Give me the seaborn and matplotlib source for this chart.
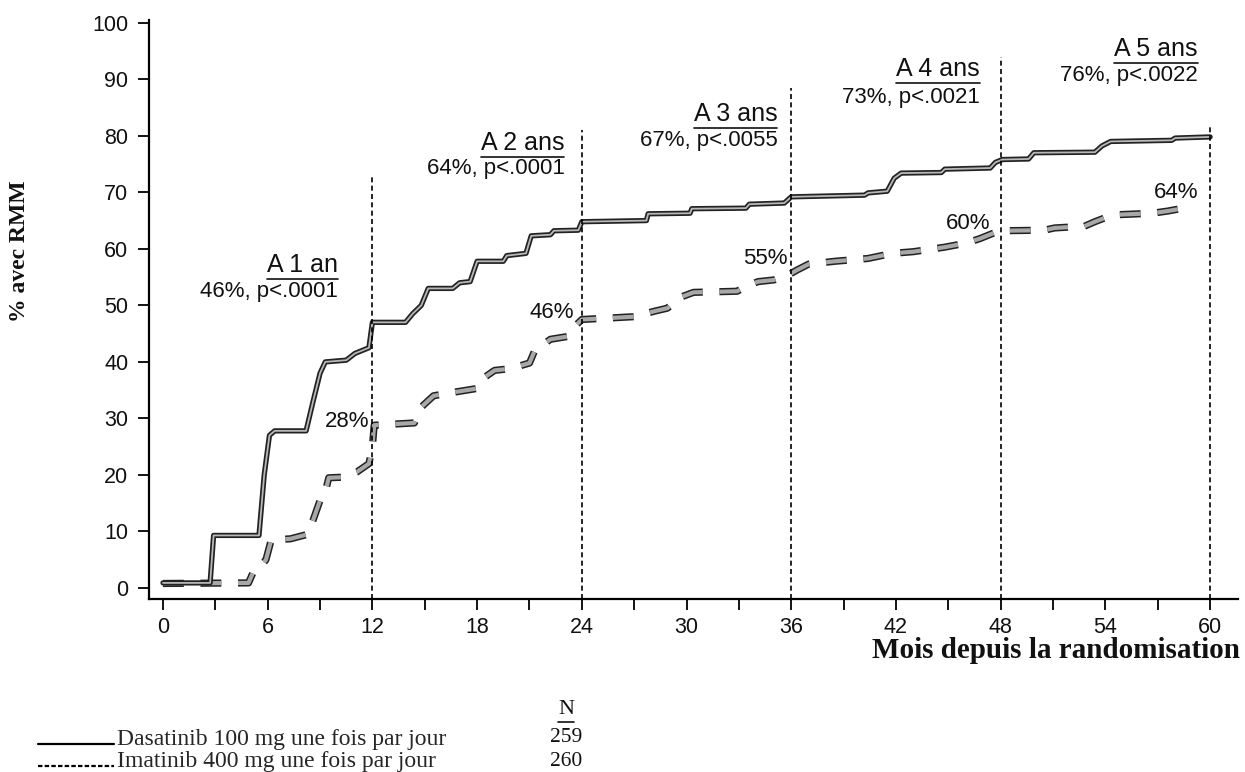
import matplotlib
matplotlib.use('Agg')
import numpy as np
import matplotlib.pyplot as plt
import seaborn as sns
import pandas as pd
from matplotlib import patheffects as pe
from matplotlib.lines import Line2D
from matplotlib.legend_handler import HandlerLine2D

# Data (% with MMR over time)
dasa_months = [0, 2.7, 2.9, 5.5, 5.8, 6.1, 6.4, 8.2, 8.6, 9.0, 9.3, 10.5, 11.0, 11.8, 12.0,
               13.9, 14.3, 14.8, 15.2, 16.6, 17.0, 17.6, 18.0, 19.5, 19.7, 20.8, 21.1, 22.2,
               22.4, 23.8, 24.0, 27.7, 27.8, 30.2, 30.3, 33.4, 33.6, 35.6, 36.0, 40.2, 40.4,
               41.5, 41.9, 42.3, 44.6, 44.8, 47.4, 47.7, 48.1, 49.6, 49.9, 53.4, 53.8, 54.3,
               57.8, 58.0, 60.0]
dasa_pct = [0.9, 0.9, 9.3, 9.3, 20, 27, 27.8, 27.8, 33, 38, 40, 40.3, 41.5, 42.5, 47,
            47, 48.5, 50, 53, 53, 54, 54.2, 57.8, 57.8, 58.8, 59.2, 62.3, 62.5,
            63.2, 63.3, 64.8, 65, 66.2, 66.3, 67.1, 67.2, 67.9, 68.1, 69.2, 69.5, 69.9,
            70.2, 72.5, 73.4, 73.5, 74.1, 74.3, 75.3, 75.8, 75.9, 77, 77.1, 78.2, 79.0,
            79.2, 79.6, 79.8]

ima_months = [0, 4.9, 5.2, 5.5, 5.9, 6.2, 7.3, 8.3, 8.6, 9.0, 9.3, 9.5, 10.3, 11.1, 11.8,
              12.0, 12.1, 14.4, 14.8, 15.5, 16.4, 18.0, 18.3, 19.0, 19.9, 21.0, 21.3, 22.2,
              23.2, 23.5, 24.0, 27.0, 28.2, 28.9, 29.7, 30.4, 32.9, 33.5, 34.1, 35.0, 35.8,
              36.3, 37.0, 38.5, 40.4, 41.8, 43.0, 44.8, 46.0, 46.8, 47.6, 48.0, 50.5, 51.1,
              52.8, 53.4, 54.4, 56.7, 57.6, 59.0]
ima_pct = [0.8, 0.9, 3, 3.5, 5, 8.5, 8.7, 9.5, 12, 15.5, 17, 19.5, 19.6, 20.5, 22,
           25, 28.8, 29.2, 32, 34, 34.5, 35.3, 37, 38.5, 38.8, 39.8, 42, 44,
           44.5, 46, 47.5, 48, 49, 49.5, 51.5, 52.3, 52.5, 53.5, 54.2, 54.5, 55.3,
           56.2, 57.3, 57.8, 58.3, 59.2, 59.5, 60.3, 61, 61.8, 62.8, 63.2, 63.3, 63.7,
           64.0, 64.8, 66.0, 66.3, 66.7, 67.5]

year_months = [12, 24, 36, 48, 60]
year_line_top = [73, 81, 88.5, 94, 82]
year_titles = ['A 1 an', 'A 2 ans', 'A 3 ans', 'A 4 ans', 'A 5 ans']
year_stats = ['46%, p<.0001', '64%, p<.0001', '67%, p<.0055', '73%, p<.0021', '76%, p<.0022']
title_x = [10.0, 23.0, 35.2, 46.8, 59.3]
title_y = [57.2, 78.8, 83.8, 91.9, 95.4]
stats_y = [52.5, 74.2, 79.2, 86.7, 90.6]

ima_labels = ['28%', '46%', '55%', '60%', '64%']
ima_label_x = [11.8, 23.55, 35.8, 47.4, 59.3]
ima_label_y = [29.5, 48.8, 58.3, 64.5, 70.0]

legend_labels = ['Dasatinib 100 mg une fois par jour', 'Imatinib 400 mg une fois par jour']
legend_n = ['259', '260']

sns.set_theme(style='white')
plt.rcParams['font.family'] = ['Liberation Sans', 'DejaVu Sans']

fig = plt.figure(figsize=(12.45, 7.72), dpi=100)
ax = fig.add_axes([0.1197, 0.2237, 0.8747, 0.7505])

dasa = pd.DataFrame({'month': dasa_months, 'pct': dasa_pct})
ima = pd.DataFrame({'month': ima_months, 'pct': ima_pct})

sns.lineplot(data=ima, x='month', y='pct', ax=ax, sort=False, estimator=None,
             color='#a8a8a8', lw=3.0, linestyle=(0, (5, 4)),
             path_effects=[pe.Stroke(linewidth=5.2, foreground='#222222'), pe.Normal()])
sns.lineplot(data=dasa, x='month', y='pct', ax=ax, sort=False, estimator=None,
             color='#b8b8b8', lw=1.3,
             path_effects=[pe.Stroke(linewidth=3.8, foreground='#222222'), pe.Normal()])

ax.vlines(year_months, -2, year_line_top, colors='black', linestyles=(0, (3, 2)), lw=1.2)

ax.set_xlim(-0.8, 61.6)
ax.set_ylim(-2, 100.5)
ax.set_xticks(range(0, 61, 6))
ax.set_xticks(range(3, 61, 6), minor=True)
ax.set_yticks(range(0, 101, 10))
ax.tick_params(axis='both', which='both', direction='out', length=8, width=1.3,
               color='black', labelsize=15.5, labelcolor='#111111')
ax.tick_params(axis='x', which='both', bottom=True, pad=5)
ax.tick_params(axis='y', left=True, pad=7)
for s in ['top', 'right']:
    ax.spines[s].set_visible(False)
for s in ['left', 'bottom']:
    ax.spines[s].set_color('black')
    ax.spines[s].set_linewidth(1.6)
ax.set_xlabel('')
ax.set_ylabel('')


def underline(txt, pad=2, lw=1.2):
    fig.canvas.draw()
    bb = txt.get_window_extent()
    inv = fig.transFigure.inverted()
    (x0, y0), (x1, _) = inv.transform([(bb.x0, bb.y0 - pad), (bb.x1, bb.y0 - pad)])
    fig.add_artist(Line2D([x0, x1], [y0, y0], color='#111111', lw=lw))


class LowLine(HandlerLine2D):
    # legend lines sit at the text baseline in the original
    def create_artists(self, legend, orig_handle, xdescent, ydescent, width, height,
                       fontsize, trans):
        arts = super().create_artists(legend, orig_handle, xdescent, ydescent, width,
                                      height, fontsize, trans)
        for a in arts:
            a.set_ydata(np.asarray(a.get_ydata()) - 0.45 * height)
        return arts


titles = []
for t, s, x, ty, sy in zip(year_titles, year_stats, title_x, title_y, stats_y):
    titles.append(ax.text(x, ty, t, ha='right', va='center', fontsize=18, color='#111111'))
    ax.text(x, sy, s, ha='right', va='center', fontsize=16, color='#111111')

for lab, x, y in zip(ima_labels, ima_label_x, ima_label_y):
    ax.text(x, y, lab, ha='right', va='center', fontsize=16, color='#111111')

serif = ['Liberation Serif', 'DejaVu Serif']
fig.text(20 / 1245, 1 - 251 / 772, '% avec RMM', rotation=90, ha='center', va='center',
         fontsize=17, fontweight='bold', family=serif, color='#111111')
fig.text(1240 / 1245, 1 - 650 / 772, 'Mois depuis la randomisation', ha='right', va='center',
         fontsize=21, fontweight='bold', family=serif, color='#111111')

handles = [Line2D([], [], color='black', lw=1.6),
           Line2D([], [], color='black', lw=1.6, linestyle=(0, (2, 1)))]
fig.legend(handles, legend_labels, loc='upper left', bbox_to_anchor=(38 / 1245, 1 - 728 / 772),
           frameon=False, handlelength=3.2, handletextpad=0.15, labelspacing=0.05,
           prop={'family': serif, 'size': 17}, borderaxespad=0, borderpad=0,
           handler_map={Line2D: LowLine()})

ntxt = fig.text(566 / 1245, 1 - 710 / 772, 'N', ha='center', va='center', fontsize=16,
                family=serif, color='#111111')
for i, n in enumerate(legend_n):
    fig.text(566 / 1245, 1 - (738 + 23 * i) / 772, n, ha='center', va='center', fontsize=15.5,
             family=serif, color='#111111')

for t in titles + [ntxt]:
    underline(t)

fig.savefig('out.png', dpi=100, facecolor='white')
